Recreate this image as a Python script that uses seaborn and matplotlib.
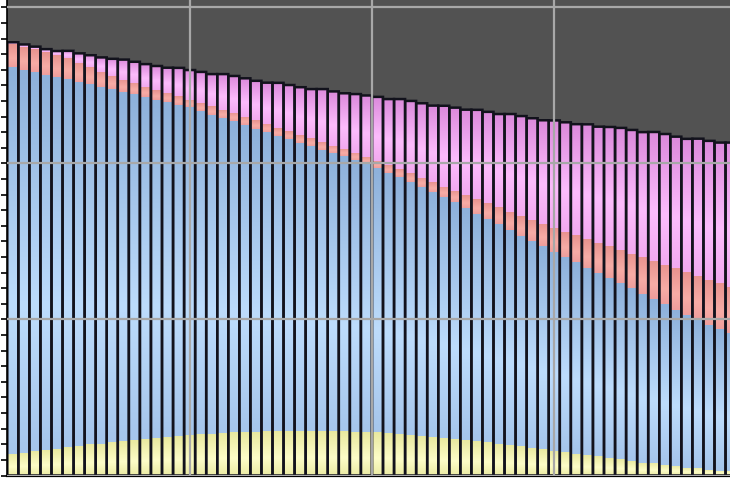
import numpy as np
import pandas as pd
import matplotlib
matplotlib.use("Agg")
import matplotlib.pyplot as plt
import seaborn as sns
from matplotlib.colors import to_rgb
from matplotlib.ticker import MultipleLocator

# bar ids (66 bars, the right-most one is cut by the image edge)
bars = list(range(1, 67))

yellow = [13.8, 14.4, 15.4, 16.3, 17.3, 18.3, 18.9, 19.9, 20.5, 21.2,
          21.8, 22.8, 23.4, 24.0, 24.7, 25.3, 26.0, 26.6, 26.9, 27.2,
          27.6, 27.9, 28.2, 28.5, 28.5, 28.8, 28.8, 28.8, 28.8, 28.5,
          28.5, 28.2, 27.9, 27.6, 27.2, 26.6, 26.0, 25.3, 24.7, 24.0,
          23.4, 22.8, 22.1, 21.2, 20.5, 19.6, 18.9, 17.9, 17.0, 16.0,
          15.1, 14.1, 13.1, 12.2, 11.2, 10.3, 9.3, 8.3, 7.7, 6.7,
          6.1, 5.1, 4.5, 3.8, 3.2, 2.6]

blue = [248.1, 245.8, 243.3, 240.7, 238.1, 235.6, 233.3, 230.8, 228.5, 226.3,
        224.0, 221.5, 219.2, 217.0, 214.7, 212.5, 209.9, 207.1, 204.5, 201.9,
        199.4, 196.8, 194.2, 191.7, 189.4, 186.9, 184.6, 182.4, 180.1, 178.2,
        176.0, 174.0, 171.8, 169.6, 167.0, 164.7, 162.2, 159.6, 157.1, 154.5,
        151.6, 148.7, 145.8, 143.3, 140.4, 137.8, 134.9, 132.4, 129.8, 127.2,
        125.0, 122.8, 120.2, 117.9, 115.4, 112.8, 110.6, 108.0, 105.4, 103.2,
        100.3, 98.1, 95.5, 92.9, 90.7, 88.8]

red = [14.7, 14.7, 14.7, 14.4, 14.1, 13.8, 12.5, 11.2, 9.9, 8.7,
       7.7, 7.4, 6.7, 6.4, 5.8, 5.4, 5.1, 5.1, 5.4, 5.4,
       5.4, 5.4, 5.4, 5.4, 5.1, 5.1, 5.1, 5.1, 4.8, 4.8,
       4.8, 4.5, 4.5, 4.5, 4.8, 5.1, 5.4, 5.8, 6.4, 6.7,
       7.4, 8.3, 9.3, 9.9, 10.9, 11.5, 12.5, 13.5, 14.4, 15.4,
       16.0, 17.0, 18.3, 18.9, 20.2, 21.5, 22.4, 23.7, 24.4, 25.3,
       26.6, 27.2, 27.9, 28.8, 29.2, 29.5]

pink = [1.1, 1.4, 1.5, 1.9, 2.6, 4.5, 5.9, 7.5, 9.1, 10.9,
        13.1, 13.5, 14.4, 15.1, 16.2, 18.1, 18.9, 19.9, 20.5, 22.8,
        23.7, 24.5, 25.2, 26.2, 28.7, 29.5, 30.4, 31.4, 34.0, 34.7,
        35.7, 37.8, 39.4, 41.0, 42.3, 44.9, 46.5, 47.9, 48.9, 51.8,
        53.4, 54.7, 57.2, 58.7, 59.9, 62.8, 64.1, 65.2, 66.5, 69.0,
        70.3, 71.3, 73.5, 74.6, 76.6, 78.2, 79.2, 80.1, 82.7, 83.7,
        84.2, 85.4, 88.0, 89.0, 90.3, 92.5]

layers = ["yellow", "blue", "red", "pink"]
df = pd.DataFrame({"bar": bars, "yellow": yellow, "blue": blue, "red": red, "pink": pink})
df_cum = df[layers].cumsum(axis=1)
df_cum["bar"] = df["bar"]

# shading per layer: top, light band, bottom
shades = {
    "yellow": ["#e8e89e", "#fdfdc8", "#ececa6"],
    "blue": ["#8eb1db", "#bddcfc", "#a6c6ec"],
    "red": ["#e8938f", "#f7aca6", "#ef9e9c"],
    "pink": ["#dc8adc", "#fcbcfc", "#f2aaf0"],
}


def gradient(cols, n=40):
    stops = [0.0, 0.62, 1.0]
    rgb = np.array([to_rgb(c) for c in cols])
    t = np.linspace(0, 1, n)
    img = np.stack([np.interp(t, stops, rgb[:, k]) for k in range(3)], axis=1)
    return img[:, None, :]


sns.set_style("dark", {"axes.facecolor": "#525252"})
fig = plt.figure(figsize=(7.3, 4.79), dpi=100)
ax = fig.add_axes([7.3 / 730, 3.5 / 479, 729.3 / 730, 475.5 / 479])

prev = None
for layer in layers:
    n0 = len(ax.patches)
    sns.barplot(data=df_cum, x="bar", y=layer, color=shades[layer][1],
                width=1, errorbar=None, linewidth=0, ax=ax)
    new = ax.patches[n0:]
    img = gradient(shades[layer])
    for i, p in enumerate(new):
        lo = 0 if prev is None else df_cum[prev].iloc[i]
        hi = df_cum[layer].iloc[i]
        x0 = p.get_x()
        ax.imshow(img, extent=(x0, x0 + p.get_width(), lo, hi), aspect="auto",
                  interpolation="bilinear", zorder=1.5)
        p.set_visible(False)
    prev = layer

# bar outlines
n0 = len(ax.patches)
sns.barplot(data=df_cum, x="bar", y="pink", color="k", width=1, errorbar=None, ax=ax)
for p in ax.patches[n0:]:
    p.set_facecolor("none")
    p.set_edgecolor("#12121c")
    p.set_linewidth(1.8)
    p.set_snap(False)
    p.set_zorder(2)

ax.set_xlim(-0.5, 65.5)
ax.set_ylim(0, 304.8)
ax.set_xticks([16, 32.5, 49])
ax.yaxis.set_major_locator(MultipleLocator(100))
ax.yaxis.set_minor_locator(MultipleLocator(10))
ax.set_xlabel("")
ax.set_ylabel("")
ax.tick_params(axis="x", length=0, labelbottom=False)
ax.tick_params(axis="y", which="both", left=True, length=4.5, width=1.2,
               color="black", labelleft=False)
ax.grid(True, which="major", color="#a8a8a8", linewidth=1.6)
ax.set_axisbelow(False)
for s in ["top", "right"]:
    ax.spines[s].set_visible(False)
ax.spines["left"].set_color("black")
ax.spines["left"].set_linewidth(1.2)
ax.spines["bottom"].set_color("black")
ax.spines["bottom"].set_linewidth(1.6)

fig.savefig("out.png", dpi=100, facecolor="white")
